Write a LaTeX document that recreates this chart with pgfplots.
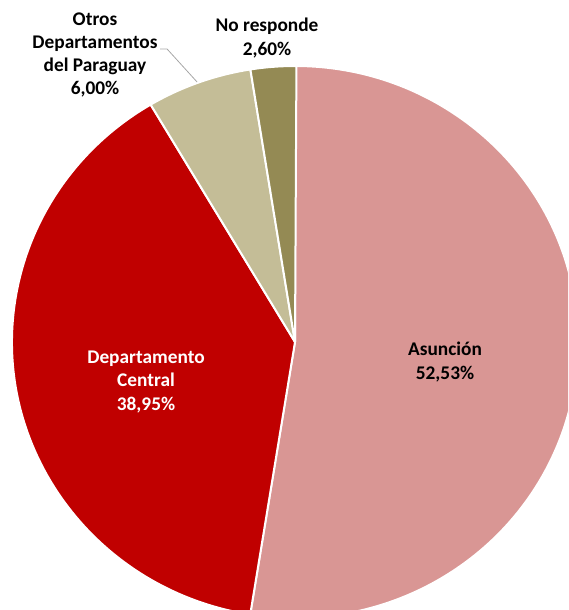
\documentclass[border=0pt]{standalone}
\usepackage{pgfplots}
\pgfplotsset{compat=1.18}
\usepackage{fontspec}
\setmainfont{Carlito}
\definecolor{asun}{HTML}{D99694}
\definecolor{central}{HTML}{C00000}
\definecolor{otros}{HTML}{C4BD97}
\definecolor{nores}{HTML}{948A54}
\begin{document}
\begin{tikzpicture}
\begin{axis}[
  hide axis, scale only axis,
  width=426pt, height=457.5pt,
  xmin=-1.04240, xmax=0.96466,
  ymin=-0.97101, ymax=1.23913,
]
\begin{scope}
\clip (rel axis cs:0,0) rectangle (rel axis cs:1,1);
% shares in percent, clockwise from the top
\xdef\startA{90}
\foreach \v/\col in {52.53/asun, 38.95/central, 6.00/otros, 2.60/nores}{
  \pgfmathsetmacro\endA{\startA-3.6*\v}
  \edef\temp{\noexpand\fill[\col, draw=white, line width=1.5pt, line join=round]
    (axis cs:0,0) -- (axis cs:{cos(\startA)},{sin(\startA)})
    arc[start angle=\startA, end angle=\endA, x radius=212.25pt, y radius=207pt] -- cycle;}
  \temp
  \xdef\startA{\endA}
}
\end{scope}
\draw[gray!70, line width=0.6pt] (axis cs:-0.477,1.0616) -- (axis cs:-0.452,1.0616) -- (axis cs:-0.346,0.942);
\tikzset{lbl/.style={font=\fontsize{14.5}{17.3}\selectfont\bfseries, align=center, inner sep=0pt}}
\node[lbl] at (axis cs:-0.0989,1.1014) {No responde\\2,60\%};
\node[lbl] at (axis cs:-0.7067,1.0399) {Otros\\Departamentos\\del Paraguay\\6,00\%};
\node[lbl] at (axis cs:0.530,-0.0725) {Asunción\\52,53\%};
\node[lbl, text=white] at (axis cs:-0.5265,-0.1449) {Departamento\\Central\\38,95\%};
\end{axis}
\pgfresetboundingbox
\useasboundingbox (current axis.south west) rectangle (current axis.north east);
\end{tikzpicture}
\end{document}
